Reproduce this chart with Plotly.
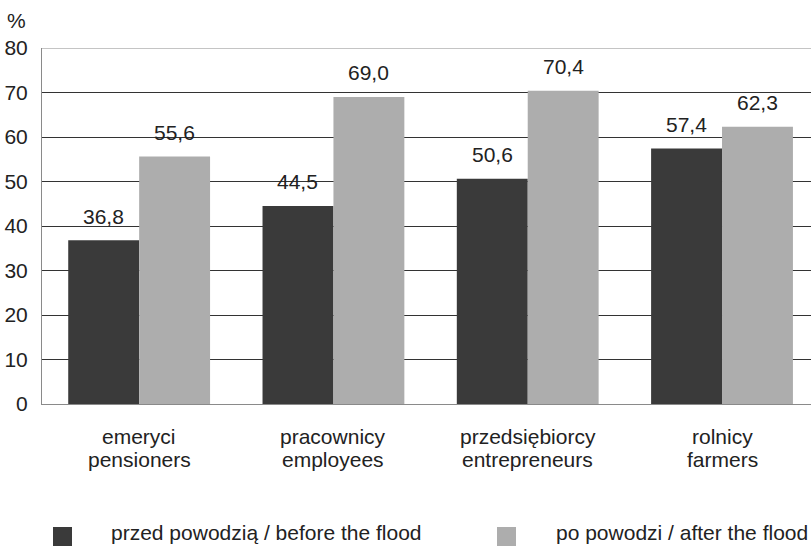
import plotly.graph_objects as go

# Share of respondents per occupational group, before and after the flood (%)
categories_pl = ["emeryci", "pracownicy", "przedsiębiorcy", "rolnicy"]
categories_en = ["pensioners", "employees", "entrepreneurs", "farmers"]
before_flood = [36.8, 44.5, 50.6, 57.4]
after_flood = [55.6, 69.0, 70.4, 62.3]
series_names = ["przed powodzią / before the flood", "po powodzi / after the flood"]
y_ticks = [0, 10, 20, 30, 40, 50, 60, 70, 80]

DARK = "#3a3a3a"
LIGHT = "#adadad"
TEXT = "#222222"
FONT = "Liberation Sans, Arial, Helvetica, sans-serif"
FS = 21

# plot-area geometry in pixels
L, T, B, W, H = 42, 48, 142, 811, 546
PW, PH = W - L, H - T - B


def fmt(v):
    return f"{v:.1f}".replace(".", ",")


def py(px):
    """Vertical pixel position (from top of page) -> paper coordinate."""
    return (H - B - px) / PH


def pxx(px):
    return (px - L) / PW


fig = go.Figure()
series = [(series_names[0], before_flood, DARK, -1),
          (series_names[1], after_flood, LIGHT, 1)]
for name, vals, col, side in series:
    fig.add_trace(go.Bar(
        x=categories_en, y=vals, name=name, marker_color=col,
        marker_line_width=0, showlegend=False, hoverinfo="y+name",
    ))
    # value labels above each bar
    for cat, v in zip(categories_en, vals):
        fig.add_annotation(x=cat, y=v, text=fmt(v), xref="x", yref="y",
                           xshift=side * 35.5, yshift=24, showarrow=False,
                           xanchor="center", yanchor="middle",
                           font=dict(size=FS, family=FONT, color=TEXT))

fig.update_layout(
    width=W, height=H,
    margin=dict(l=L, r=0, t=T, b=B),
    paper_bgcolor="white", plot_bgcolor="white",
    barmode="group", bargap=0.27, bargroupgap=0,
    font=dict(family=FONT, size=FS, color=TEXT),
    xaxis=dict(range=[-0.5, 3.458], showgrid=False, ticks="",
               showticklabels=False,
               showline=True, linecolor="#8a8a8a", linewidth=1),
    yaxis=dict(range=[0, 80], tickvals=y_ticks, showgrid=True,
               gridcolor="#333333", gridwidth=1, zeroline=False,
               showline=True, linecolor="#8a8a8a", linewidth=1,
               ticks="", tickfont=dict(size=FS, family=FONT, color=TEXT),
               ticklabelstandoff=9),
)

# light frame line along the top of the value axis
fig.add_shape(type="line", xref="paper", yref="y", x0=0, x1=1, y0=80, y1=80,
              line=dict(color="#8a8a8a", width=1), layer="above")

# two-line category labels (Polish / English)
for pl, en in zip(categories_pl, categories_en):
    for txt, ypx in [(pl, 436), (en, 459)]:
        fig.add_annotation(x=en, y=py(ypx), xref="x", yref="paper", text=txt,
                           showarrow=False, xanchor="center", yanchor="middle",
                           font=dict(size=FS, family=FONT, color=TEXT))

# unit label above the value axis
fig.add_annotation(text="%", xref="paper", yref="paper", x=pxx(17), y=py(20),
                   showarrow=False, xanchor="center", yanchor="middle",
                   font=dict(size=FS, family=FONT, color=TEXT))

# legend row drawn as swatches with captions
legend_items = [(series_names[0], DARK, 53, 110), (series_names[1], LIGHT, 497, 555)]
for name, col, sx, tx in legend_items:
    fig.add_shape(type="rect", xref="paper", yref="paper",
                  x0=pxx(sx), x1=pxx(sx + 19), y0=py(546), y1=py(527),
                  fillcolor=col, line_width=0)
    fig.add_annotation(text=name, xref="paper", yref="paper",
                       x=pxx(tx), y=py(532), borderpad=0,
                       xanchor="left", yanchor="middle", showarrow=False,
                       font=dict(size=FS, family=FONT, color=TEXT))

fig.write_html("out.html")
